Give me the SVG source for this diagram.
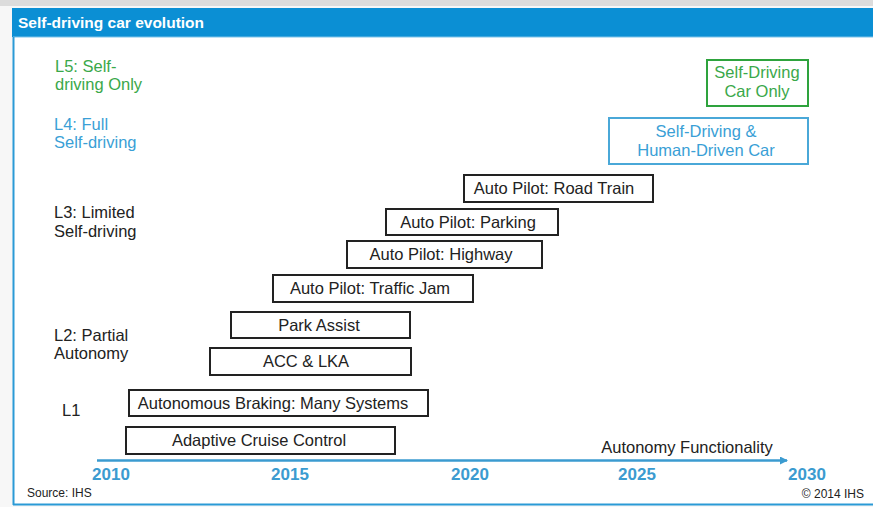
<svg xmlns="http://www.w3.org/2000/svg" width="873" height="507" viewBox="0 0 873 507">
<style>
text{font-family:"Liberation Sans",Arial,sans-serif;}
.box rect{fill:#fff;stroke:#222;stroke-width:2;}
.box text{font-size:16.5px;fill:#222;text-anchor:middle;}
.lvl{font-size:16.5px;}
.yr{font-size:17px;font-weight:bold;fill:#3b9bd0;text-anchor:middle;}
</style>
<defs>
<marker id="ah" markerWidth="8" markerHeight="8" refX="7" refY="4" orient="auto" markerUnits="userSpaceOnUse">
<path d="M0,0 L8,4 L0,8 z" fill="#3b9bd0"/>
</marker>
</defs>
<rect x="0" y="0" width="873" height="507" fill="#f7f7f7"/>
<rect x="0" y="0" width="873" height="6" fill="#dcdcdc"/>
<rect x="13" y="8" width="860" height="497" fill="#ffffff"/>
<rect x="12" y="8" width="861" height="29" fill="#0b8fd4"/>
<line x1="13" y1="37" x2="873" y2="37" fill="none" stroke="#7cc3ea" stroke-width="1"/>
<line x1="13.5" y1="37" x2="13.5" y2="505" stroke="#2a9ad6" stroke-width="2"/>
<line x1="13" y1="504.5" x2="873" y2="504.5" stroke="#2a9ad6" stroke-width="2"/>
<text x="18" y="28" font-size="15.5" font-weight="bold" fill="#ffffff">Self-driving car evolution</text>

<g id="level-labels">
<text class="lvl" x="55" y="72" fill="#3aa84a">L5: Self-</text>
<text class="lvl" x="55" y="90" fill="#3aa84a">driving Only</text>
<text class="lvl" x="54" y="130" fill="#3a9fd6">L4: Full</text>
<text class="lvl" x="54" y="148" fill="#3a9fd6">Self-driving</text>
<text class="lvl" x="54" y="218" fill="#222">L3: Limited</text>
<text class="lvl" x="54" y="237" fill="#222">Self-driving</text>
<text class="lvl" x="54" y="341" fill="#222">L2: Partial</text>
<text class="lvl" x="54" y="359" fill="#222">Autonomy</text>
<text class="lvl" x="62" y="416" fill="#222">L1</text>
</g>

<g id="n-l5">
<rect x="707" y="60" width="101" height="46" fill="#fff" stroke="#2ea33d" stroke-width="2"/>
<text x="757" y="78" font-size="16.5" fill="#3aa84a" text-anchor="middle">Self-Driving</text>
<text x="757" y="97" font-size="16.5" fill="#3aa84a" text-anchor="middle">Car Only</text>
</g>
<g id="n-l4">
<rect x="609" y="118" width="199" height="46" fill="#fff" stroke="#4aa8d8" stroke-width="2"/>
<text x="706" y="137" font-size="16.5" fill="#3a9fd6" text-anchor="middle">Self-Driving &amp;</text>
<text x="706" y="156" font-size="16.5" fill="#3a9fd6" text-anchor="middle">Human-Driven Car</text>
</g>
<g id="n-roadtrain" class="box"><rect x="464" y="175" width="189" height="27"/><text x="554" y="194">Auto Pilot: Road Train</text></g>
<g id="n-parking" class="box"><rect x="386" y="209" width="172" height="26"/><text x="468" y="228">Auto Pilot: Parking</text></g>
<g id="n-highway" class="box"><rect x="347" y="241" width="195" height="27"/><text x="441" y="260">Auto Pilot: Highway</text></g>
<g id="n-trafficjam" class="box"><rect x="273" y="275" width="200" height="27"/><text x="370" y="294">Auto Pilot: Traffic Jam</text></g>
<g id="n-parkassist" class="box"><rect x="231" y="312" width="179" height="26"/><text x="319" y="331">Park Assist</text></g>
<g id="n-acclka" class="box"><rect x="210" y="348" width="201" height="27"/><text x="306" y="367">ACC &amp; LKA</text></g>
<g id="n-braking" class="box"><rect x="129" y="390" width="299" height="26"/><text x="273" y="409">Autonomous Braking: Many Systems</text></g>
<g id="n-acc" class="box"><rect x="126" y="427" width="269" height="27"/><text x="259" y="446">Adaptive Cruise Control</text></g>

<g id="connectors">
<line x1="97" y1="460.5" x2="787" y2="460.5" stroke="#3b9bd0" stroke-width="2.5" marker-end="url(#ah)"/>
</g>
<text x="687" y="453" font-size="16.5" fill="#222" text-anchor="middle">Autonomy Functionality</text>
<g id="years">
<text class="yr" x="111" y="480">2010</text>
<text class="yr" x="290" y="480">2015</text>
<text class="yr" x="470" y="480">2020</text>
<text class="yr" x="637" y="480">2025</text>
<text class="yr" x="807" y="480">2030</text>
</g>
<text x="27" y="497" font-size="12" fill="#222">Source: IHS</text>
<text x="864" y="498" font-size="12" fill="#222" text-anchor="end">© 2014 IHS</text>
</svg>
